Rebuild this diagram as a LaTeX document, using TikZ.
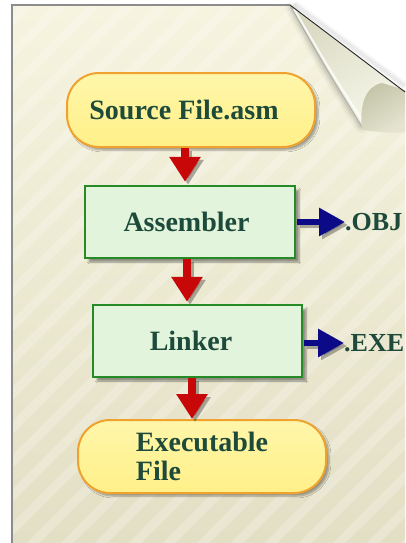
\documentclass[tikz,border=0pt]{standalone}
\usepackage{fontspec}
\setmainfont{Liberation Serif}
\usetikzlibrary{arrows.meta,shadows.blur,calc}

\definecolor{pagetop}{HTML}{F6F4DF}
\definecolor{pagebot}{HTML}{E3DFC5}
\definecolor{termfill}{HTML}{FFF088}
\definecolor{termtop}{HTML}{FFF6AA}
\definecolor{termedge}{HTML}{EFA22E}
\definecolor{procfill}{HTML}{E2F4DC}
\definecolor{procedge}{HTML}{268A26}
\definecolor{labelink}{HTML}{1D4A3A}
\definecolor{flowred}{HTML}{C80808}
\definecolor{outblue}{HTML}{0C0A86}
\definecolor{flapdark}{HTML}{D9D9C2}
\definecolor{flaplight}{HTML}{F7F7EA}
\definecolor{rolldark}{HTML}{C4C4A8}
\definecolor{rolllight}{HTML}{E4E4D0}

% pull a label a little to the left of its box centre
\newcommand{\leftnudge}[1]{\hspace*{-#1}}

\tikzset{
  lbl/.style={font=\fontsize{28}{29}\selectfont\bfseries, text=labelink},
  term/.style={lbl, draw=termedge, line width=2pt, top color=termtop, bottom color=termfill,
    rounded corners=32pt, align=left, inner sep=0pt,
    blur shadow={shadow xshift=3pt, shadow yshift=-3pt, shadow opacity=35, shadow blur steps=6}},
  proc/.style={lbl, draw=procedge, line width=2.5pt, fill=procfill, inner sep=0pt,
    blur shadow={shadow xshift=4pt, shadow yshift=-4pt, shadow opacity=40, shadow blur steps=6}},
  outlbl/.style={font=\fontsize{26}{28}\selectfont\bfseries, text=labelink, anchor=west, inner sep=0pt},
  flowarr/.style={draw=flowred, line width=8pt, -{Triangle[width=30pt,length=25pt,fill=flowred]}},
  outarr/.style={draw=outblue, line width=6pt, -{Triangle[width=27pt,length=26pt,fill=outblue]}},
  dropshade/.style={draw=black, opacity=0.3, transform canvas={shift={(3pt,-3pt)}}}
}

\begin{document}
\begin{tikzpicture}[x=1pt,y=-1pt]
  % canvas
  \fill[white] (0,0) rectangle (405,543);
  \useasboundingbox (0,0) rectangle (405,543);

  % the sheet with its top right corner turned over
  \path[top color=pagetop, bottom color=pagebot]
    (12,5) -- (290,5) -- (405,92) -- (405,543) -- (12,543) -- cycle;
  \begin{scope}
    \clip (12,5) -- (290,5) -- (405,92) -- (405,543) -- (12,543) -- cycle;
    \foreach \k in {-12,...,20}
      \draw[white, line width=9pt, opacity=0.22] (\k*34-120,560) -- (\k*34+480,-40);
  \end{scope}
  \draw[black!45, line width=1.4pt] (12,543) -- (12,5) -- (290,5);

  % shadow cast by the fold onto the sheet
  \foreach \w/\o in {12/0.03,7/0.05,3/0.07}
    \draw[black, line width=\w pt, opacity=\o, line cap=round]
      (291,8) .. controls (325,70) .. (361,127);

  % back of the folded flap
  \path[left color=flapdark, right color=flaplight, shading angle=32]
    (290,5) -- (405,92) -- (405,104) -- (363,128)
    .. controls (328,72) .. (290,5) -- cycle;
  % crease along the flap edge: thin shade with a light rim inside
  \draw[black!40, line width=1.2pt, opacity=0.6]
    (290,5) .. controls (328,72) .. (363,128);
  \draw[white, line width=2pt, opacity=0.8]
    (294,9) .. controls (331,72) .. (366,126);
  % rolled edge of the flap
  \path[left color=rolldark, right color=rolllight, shading angle=32]
    (362,130) .. controls (359,104) and (366,86) .. (382,83)
    -- (405,90) -- (405,132) .. controls (390,133) .. (362,130) -- cycle;
  % soft shadow beyond the fold line
  \foreach \w/\o in {8/0.03,4/0.05}
    \draw[black, line width=\w pt, opacity=\o] (294,4) -- (405,86);
  \draw[black!85, line width=0.9pt] (290,5) -- (405,92);

  % flow nodes
  \node[term, minimum width=248pt, minimum height=74pt] (src) at (191,110) {\leftnudge{14pt}Source File.asm};
  \node[proc, minimum width=210pt, minimum height=72pt] (asm) at (190,222) {\leftnudge{7pt}Assembler};
  \node[proc, minimum width=209pt, minimum height=72pt] (lnk) at (197.5,341) {\leftnudge{13pt}Linker};
  \node[term, minimum width=248pt, minimum height=73pt] (exe) at (202,456.5) {Executable\\File};

  % output labels
  \node[outlbl] (obj) at (345,222) {.OBJ};
  \node[outlbl] (exf) at (344,343) {.EXE};

  % main flow
  \foreach \a/\b/\sa/\sb/\gap in {src/asm/-6/-5/3, asm/lnk/-3/-10.5/2, lnk/exe/-5.5/-10/0}{
    \draw[flowarr, dropshade, shorten >=\gap pt] ([xshift=\sa pt]\a.south) -- ([xshift=\sb pt]\b.north);
    \draw[flowarr, shorten >=\gap pt] ([xshift=\sa pt]\a.south) -- ([xshift=\sb pt]\b.north);
  }

  % side outputs
  \draw[outarr, dropshade, shorten <=1pt] (asm.east) -- (obj.west);
  \draw[outarr, shorten <=1pt] (asm.east) -- (obj.west);
  \draw[outarr, dropshade, shorten <=1pt] ([yshift=-2pt]lnk.east) -- (exf.west);
  \draw[outarr, shorten <=1pt] ([yshift=-2pt]lnk.east) -- (exf.west);
\end{tikzpicture}
\end{document}
